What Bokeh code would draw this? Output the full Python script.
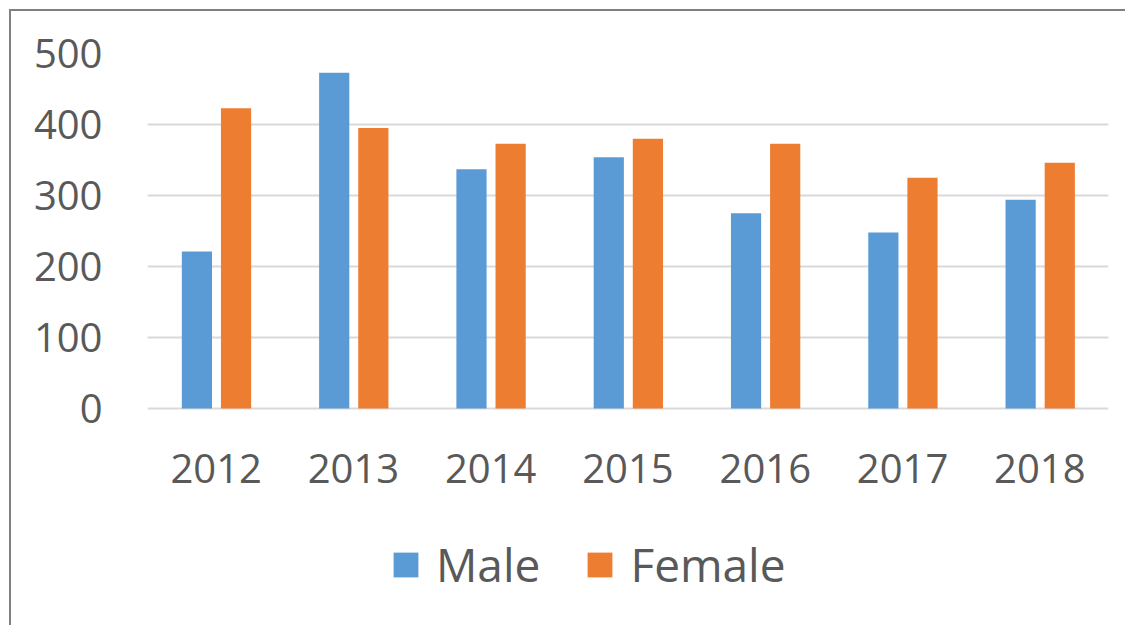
from bokeh.plotting import figure
from bokeh.models import FactorRange, Range1d, Legend, LegendItem, ColumnDataSource, FixedTicker
from bokeh.transform import dodge
from bokeh.embed import file_html
from bokeh.resources import INLINE

years = ["2012", "2013", "2014", "2015", "2016", "2017", "2018"]
male = [221, 473, 337, 354, 275, 248, 294]
female = [423, 395, 373, 380, 373, 325, 346]
y_ticks = [0, 100, 200, 300, 400, 500]

BLUE = "#5B9BD5"
ORANGE = "#ED7D31"
TEXT = "#595959"
FONT = "Open Sans"

src = ColumnDataSource(dict(years=years, male=male, female=female))

# frame spans y = 53..615 px; 0 sits at 408 px, 500 at 53 px
p = figure(
    x_range=FactorRange(*years, range_padding=0),
    y_range=Range1d(-291.5, 500),
    width=1125, height=625,
    output_backend="svg", toolbar_location=None,
    min_border_left=147, min_border_right=17, min_border_top=53, min_border_bottom=10,
)
p.styles = {
    "background": "linear-gradient(#808080,#808080) 9px 9px / 2px 100% no-repeat, "
                  "linear-gradient(#808080,#808080) 9px 9px / 100% 2px no-repeat, white",
}
p.outline_line_color = None
p.background_fill_color = None
p.border_fill_color = None

r1 = p.vbar(x=dodge("years", -0.14, range=p.x_range), top="male", width=0.22,
            source=src, fill_color=BLUE, line_color=None)
r2 = p.vbar(x=dodge("years", 0.145, range=p.x_range), top="female", width=0.22,
            source=src, fill_color=ORANGE, line_color=None)

p.xgrid.grid_line_color = None
p.ygrid.grid_line_color = "#D9D9D9"
p.ygrid.grid_line_width = 2
p.yaxis.ticker = FixedTicker(ticks=y_ticks)
p.xaxis.fixed_location = 0

for ax in (p.xaxis[0], p.yaxis[0]):
    ax.axis_line_color = None
    ax.major_tick_line_color = None
    ax.minor_tick_line_color = None
    ax.major_tick_in = 0
    ax.major_tick_out = 0
    ax.major_label_text_font = FONT
    ax.major_label_text_font_size = "40px"
    ax.major_label_text_color = TEXT
p.yaxis.major_label_standoff = 45
p.xaxis.major_label_standoff = 45

legend = Legend(
    items=[LegendItem(label="Male", renderers=[r1]), LegendItem(label="Female", renderers=[r2])],
    location=(243, 20), orientation="horizontal",
    glyph_width=31, glyph_height=31, label_height=31,
    label_standoff=15, spacing=44, padding=0, margin=0,
    border_line_color=None, background_fill_alpha=0,
    label_text_font=FONT, label_text_font_size="46px", label_text_color=TEXT,
)
p.add_layout(legend, "center")

open("out.html", "w").write(file_html(p, INLINE))
